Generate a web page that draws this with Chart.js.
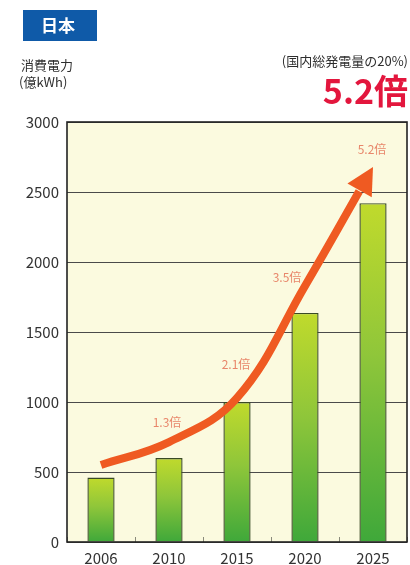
<!DOCTYPE html>
<html lang="ja">
<head>
<meta charset="utf-8">
<title>消費電力</title>
<script src="https://cdn.jsdelivr.net/npm/chart.js@4/dist/chart.umd.min.js"></script>
<style>
  html, body { margin: 0; padding: 0; background: #ffffff; }
  #wrap { width: 410px; height: 565px; position: relative; }
</style>
</head>
<body>
<div id="wrap"><canvas id="chart" width="410" height="565"></canvas></div>
<script>
// 年次カテゴリと消費電力（億kWh）
const categories = ['2006', '2010', '2015', '2020', '2025'];
const consumption = [460, 600, 1000, 1636, 2420];
// 増加を示す矢印の通過点（億kWh）
const arrowPath = [550, 714, 1029, 1829, 2679];
// 矢印沿いの倍率ラベル（2006年比）
const growthLabels = ['', '1.3倍', '2.1倍', '3.5倍', '5.2倍'];
// 縦軸の目盛
const yMin = 0;
const yMax = 3000;
const yStep = 500;

const JP = '"Noto Sans CJK JP", "Noto Sans", sans-serif';

// 棒ごとの縦グラデーション（上：黄緑 → 下：緑）
function barGradient(ctx) {
  const chart = ctx.chart;
  const area = chart.chartArea;
  if (!area || ctx.type !== 'data') return '#8cc43a';
  const top = chart.scales.y.getPixelForValue(ctx.raw);
  const g = chart.ctx.createLinearGradient(0, top, 0, area.bottom);
  g.addColorStop(0, '#c0da2c');
  g.addColorStop(0.45, '#8fc63a');
  g.addColorStop(1, '#3fa83a');
  return g;
}

// 描画域の背景と枠
const backdrop = {
  id: 'backdrop',
  beforeDraw(chart) {
    const { ctx, chartArea: a } = chart;
    ctx.save();
    ctx.fillStyle = '#ffffff';
    ctx.fillRect(0, 0, chart.width, chart.height);
    ctx.fillStyle = '#fbfadf';
    ctx.fillRect(a.left, a.top, a.right - a.left, a.bottom - a.top);
    ctx.restore();
  },
  afterDatasetsDraw(chart) {
    const { ctx, chartArea: a } = chart;
    ctx.save();
    ctx.strokeStyle = '#222222';
    ctx.lineWidth = 1.6;
    ctx.strokeRect(a.left, a.top, a.right - a.left, a.bottom - a.top);
    ctx.restore();
  }
};

// 矢印の先端：線を先端の手前で切り、三角形を描く
function arrowGeometry(chart, meta) {
  const line = meta.dataset;
  if (line && line.updateControlPoints) line.updateControlPoints(chart.chartArea, 'x');
  const pts = meta.data;
  const tip = pts[pts.length - 1];
  let dx = tip.x - (tip.cp1x ?? pts[pts.length - 2].x);
  let dy = tip.y - (tip.cp1y ?? pts[pts.length - 2].y);
  const len = Math.hypot(dx, dy) || 1;
  dx /= len; dy /= len;
  const L = 28, W = 14;
  const bx = tip.x - dx * L, by = tip.y - dy * L;
  return { tip, dx, dy, bx, by, px: -dy, py: dx, W };
}

const arrowHead = {
  id: 'arrowHead',
  beforeDatasetDraw(chart, args) {
    if (args.meta.type !== 'line') return;
    const g = arrowGeometry(chart, args.meta);
    const ctx = chart.ctx;
    const F = 3000;
    ctx.save();
    ctx.beginPath();
    ctx.moveTo(g.bx + g.px * F, g.by + g.py * F);
    ctx.lineTo(g.bx - g.px * F, g.by - g.py * F);
    ctx.lineTo(g.bx - g.px * F - g.dx * F, g.by - g.py * F - g.dy * F);
    ctx.lineTo(g.bx + g.px * F - g.dx * F, g.by + g.py * F - g.dy * F);
    ctx.closePath();
    ctx.clip();
  },
  afterDatasetDraw(chart, args) {
    if (args.meta.type !== 'line') return;
    const ctx = chart.ctx;
    ctx.restore();
    const g = arrowGeometry(chart, args.meta);
    ctx.save();
    ctx.fillStyle = '#ef5a22';
    ctx.beginPath();
    ctx.moveTo(g.tip.x, g.tip.y);
    ctx.lineTo(g.bx + g.px * g.W + g.dx * 1, g.by + g.py * g.W + g.dy * 1);
    ctx.lineTo(g.bx - g.px * g.W + g.dx * 1, g.by - g.py * g.W + g.dy * 1);
    ctx.closePath();
    ctx.fill();
    ctx.restore();
  }
};

// 倍率ラベル（矢印の各点の上）
const growthText = {
  id: 'growthText',
  afterDatasetsDraw(chart) {
    const meta = chart.getDatasetMeta(0);
    const shift = [[0, 0], [-2, -20], [-1, -34], [-18, -9], [-1, -18]];
    const ctx = chart.ctx;
    ctx.save();
    ctx.font = '12px ' + JP;
    ctx.fillStyle = '#e8866a';
    ctx.textAlign = 'center';
    ctx.textBaseline = 'middle';
    growthLabels.forEach((t, i) => {
      if (!t) return;
      const p = meta.data[i];
      ctx.fillText(t, p.x + shift[i][0], p.y + shift[i][1]);
    });
    ctx.restore();
  }
};

// 見出し・単位・注記
const headings = {
  id: 'headings',
  afterDraw(chart) {
    const ctx = chart.ctx;
    ctx.save();
    ctx.fillStyle = '#0f5aa8';
    ctx.fillRect(23, 10, 74, 31);
    ctx.fillStyle = '#ffffff';
    ctx.font = 'bold 17px ' + JP;
    ctx.textAlign = 'center';
    ctx.textBaseline = 'middle';
    ctx.fillText('日本', 58, 26);

    ctx.fillStyle = '#2e2e2e';
    ctx.font = '13px ' + JP;
    ctx.textAlign = 'left';
    ctx.fillText('消費電力', 21, 65);
    ctx.fillText('(億kWh)', 19, 82);

    ctx.textAlign = 'right';
    ctx.font = '13px ' + JP;
    ctx.fillText('(国内総発電量の20%)', 408, 61);

    ctx.fillStyle = '#e3163d';
    ctx.font = 'bold 34px ' + JP;
    ctx.fillText('5.2倍', 408, 91);
    ctx.restore();
  }
};

new Chart(document.getElementById('chart'), {
  type: 'bar',
  data: {
    labels: categories,
    datasets: [
      {
        type: 'line',
        label: '増加',
        data: arrowPath,
        order: 0,
        borderColor: '#ef5a22',
        borderWidth: 8,
        borderCapStyle: 'butt',
        tension: 0.4,
        pointRadius: 0,
        fill: false
      },
      {
        type: 'bar',
        label: '消費電力',
        data: consumption,
        order: 1,
        backgroundColor: barGradient,
        borderColor: '#3a4a26',
        borderWidth: 1.4,
        borderSkipped: 'bottom',
        barPercentage: 0.4,
        categoryPercentage: 1
      }
    ]
  },
  plugins: [backdrop, arrowHead, growthText, headings],
  options: {
    responsive: false,
    animation: false,
    layout: { padding: { top: 122, right: 3, left: 0, bottom: 0 } },
    plugins: {
      legend: { display: false },
      tooltip: { enabled: false }
    },
    scales: {
      x: {
        offset: true,
        grid: {
          display: true,
          offset: true,
          drawOnChartArea: false,
          drawTicks: true,
          tickLength: -5,
          color: '#8a8a7a'
        },
        border: { display: false },
        ticks: {
          color: '#333333',
          font: { family: JP, size: 15 },
          padding: 12
        },
        afterFit(scale) { scale.height = 23; }
      },
      y: {
        min: yMin,
        max: yMax,
        grid: {
          color: '#4a4a4a',
          lineWidth: 1,
          drawTicks: false
        },
        border: { display: false },
        ticks: {
          stepSize: yStep,
          color: '#333333',
          font: { family: JP, size: 15 },
          padding: 8,
          callback: (v) => String(v)
        },
        afterFit(scale) { scale.width = 67; }
      }
    }
  }
});
</script>
</body>
</html>
